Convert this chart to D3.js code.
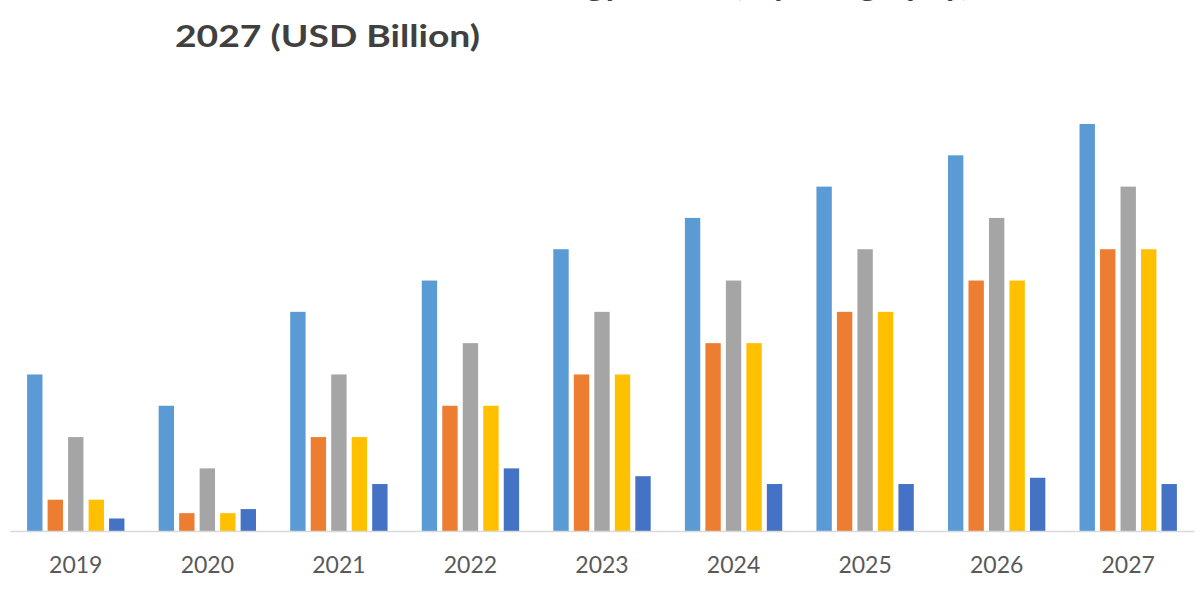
<!DOCTYPE html>
<html>
<head>
<meta charset="utf-8">
<script src="https://cdn.jsdelivr.net/npm/d3@7"></script>
<style>
  html, body { margin: 0; padding: 0; background: #fff; }
  svg { display: block; }
</style>
</head>
<body>
<svg id="chart" width="1200" height="600"></svg>
<script>
const titleLines = ["Global Blockchain Technology Market, by Geography, 2019 to", "2027 (USD Billion)"];
const categories = ["2019", "2020", "2021", "2022", "2023", "2024", "2025", "2026", "2027"];
const seriesNames = ["Series 1", "Series 2", "Series 3", "Series 4", "Series 5"];
const series1 = [5, 4, 7, 8, 9, 10, 11, 12, 13];
const series2 = [1, 0.57, 3, 4, 5, 6, 7, 8, 9];
const series3 = [3, 2, 5, 6, 7, 8, 9, 10, 11];
const series4 = [1, 0.57, 3, 4, 5, 6, 7, 8, 9];
const series5 = [0.4, 0.7, 1.5, 2, 1.75, 1.5, 1.5, 1.7, 1.5];
const colors = ["#5B9BD5", "#ED7D31", "#A5A5A5", "#FFC000", "#4472C4"];

const allSeries = [series1, series2, series3, series4, series5];
const data = categories.map((c, i) => ({ cat: c, vals: allSeries.map((s, k) => ({ key: seriesNames[k], v: s[i], k })) }));

const svg = d3.select("#chart");
const baseY = 531, topY = 124;
const x0 = d3.scaleBand().domain(categories).range([10, 1194]).paddingInner(0.26).paddingOuter(0.13);
const x1 = d3.scaleBand().domain(seriesNames).range([0, x0.bandwidth()]).paddingInner(0.25).paddingOuter(0);
const maxV = d3.max(allSeries.flat());
const y = d3.scaleLinear().domain([0, maxV]).range([baseY, topY]);
const color = d3.scaleOrdinal().domain(seriesNames).range(colors);

// title
const title = svg.append("g").attr("font-family", "Lato, sans-serif").attr("font-weight", "bold").attr("fill", "#404040");
title.append("text").attr("x", 175).attr("y", -4).attr("font-size", 31)
  .attr("textLength", 920).attr("lengthAdjust", "spacingAndGlyphs").text(titleLines[0]);
title.append("text").attr("x", 175).attr("y", 47).attr("font-size", 31)
  .attr("textLength", 305).attr("lengthAdjust", "spacingAndGlyphs").text(titleLines[1]);

// bars
const groups = svg.append("g").selectAll("g").data(data).join("g")
  .attr("transform", d => `translate(${x0(d.cat)},0)`);
groups.selectAll("rect").data(d => d.vals).join("rect")
  .attr("x", d => x1(d.key))
  .attr("width", x1.bandwidth())
  .attr("y", d => y(d.v))
  .attr("height", d => y(0) - y(d.v))
  .attr("fill", d => color(d.key));

// x axis
const axis = svg.append("g").attr("transform", `translate(0,${baseY})`)
  .call(d3.axisBottom(x0).tickSize(0).tickPadding(26));
axis.select(".domain").attr("stroke", "#D9D9D9").attr("stroke-width", 1.5);
axis.selectAll("text").attr("font-family", "Lato, sans-serif").attr("font-size", 23).attr("fill", "#595959");
</script>
</body>
</html>
